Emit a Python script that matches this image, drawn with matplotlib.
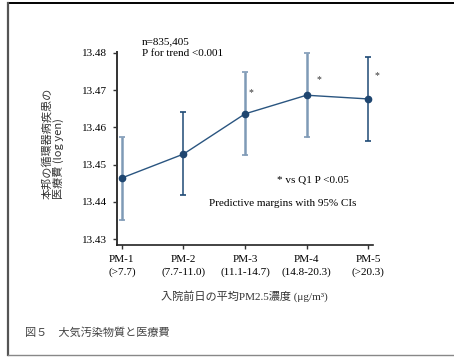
import matplotlib
matplotlib.use("Agg")
import matplotlib.pyplot as plt
from matplotlib.lines import Line2D

# ---- data ----
categories = ["PM-1\n(>7.7)", "PM-2\n(7.7-11.0)", "PM-3\n(11.1-14.7)", "PM-4\n(14.8-20.3)", "PM-5\n(>20.3)"]
margins = [13.4464, 13.4528, 13.4636, 13.4686, 13.4676]
ci_lower = [13.4351, 13.4418, 13.4525, 13.4575, 13.4563]
ci_upper = [13.4575, 13.4640, 13.4747, 13.4799, 13.4788]
yticks = [13.43, 13.44, 13.45, 13.46, 13.47, 13.48]
sig_idx = [2, 3, 4]
sig_y = [13.4693, 13.4727, 13.4738]

ylabel = "本邦の循環器病疾患の\n医療費 (log yen)"
xlabel = "入院前日の平均PM2.5濃度 (μg/m³)"
caption = "図５　大気汚染物質と医療費"
note_n = "n=835,405"
note_p = "P for trend <0.001"
note_sig = "* vs Q1 P <0.05"
note_ci = "Predictive margins with 95% CIs"

serif = ["Liberation Serif", "Noto Sans CJK JP"]
cjk = ["Noto Sans CJK JP", "DejaVu Sans"]
fs = 8.0

fig = plt.figure(figsize=(4.54, 3.57), dpi=100)
W, H = 454, 357
ax = fig.add_axes([117 / W, 1 - 245 / H, (373 - 117) / W, (245 - 52) / H])

x = list(range(len(categories)))
bar_colors = ["#7f9ab6", "#1f4a75", "#7f9ab6", "#7f9ab6", "#1f4a75"]
bar_lw = [1.8, 1.1, 1.8, 1.8, 1.1]
for i in x:
    ax.errorbar([i], [margins[i]],
                yerr=[[margins[i] - ci_lower[i]], [ci_upper[i] - margins[i]]],
                fmt="none", ecolor=bar_colors[i], elinewidth=bar_lw[i],
                capsize=2.2, capthick=1.2, zorder=2)
ax.plot(x, margins, color="#2a5580", lw=1.0, marker="o", ms=4.5,
        markerfacecolor="#1f4670", markeredgecolor="#1f4670", zorder=3)

dx = {2: 0.1, 3: 0.2, 4: 0.15}
for i, yv in zip(sig_idx, sig_y):
    ax.text(i + dx[i], yv, "*", fontsize=7, family=serif, ha="center", va="center", color="#333333")

ax.set_xlim(-0.08, 4.08)
ax.set_ylim(13.4284, 13.4802)
ax.set_yticks(yticks)
ax.set_yticklabels([f"{v:.2f}" for v in yticks], family=serif, fontsize=fs)
ax.set_xticks(x)
ax.set_xticklabels(categories, family=serif, fontsize=fs, linespacing=1.45)
for s in ["top", "right"]:
    ax.spines[s].set_visible(False)
ax.spines["left"].set_linewidth(1.4)
ax.spines["left"].set_color("#333333")
ax.spines["bottom"].set_linewidth(1.2)
ax.spines["bottom"].set_color("#222222")
ax.tick_params(axis="both", length=3, width=1, color="#333333", pad=4)

# annotations
fig.text(142 / W, 1 - 41.5 / H, note_n, family=serif, fontsize=fs, ha="left", va="center")
fig.text(142 / W, 1 - 53.5 / H, note_p, family=serif, fontsize=fs, ha="left", va="center")
fig.text(277 / W, 1 - 180 / H, note_sig, family=serif, fontsize=fs, ha="left", va="center")
fig.text(209 / W, 1 - 204 / H, note_ci, family=serif, fontsize=fs, ha="left", va="center")

fig.text(53 / W, 1 - 143 / H, ylabel, family=cjk, fontsize=8, rotation=90,
         ha="center", va="center", multialignment="left", color="#333333", linespacing=1.1)
fig.text(244 / W, 1 - 296 / H, xlabel, family=serif, fontsize=fs, ha="center", va="center",
         color="#333333")
fig.text(25 / W, 1 - 333 / H, caption, family=cjk, fontsize=8, ha="left", va="center",
         color="#444444")

# outer frame
fig.add_artist(Line2D([8 / W, 1], [1 - 3 / H, 1 - 3 / H], color="black", lw=1.4, transform=fig.transFigure))
fig.add_artist(Line2D([8 / W, 8 / W], [1 - 3 / H, 1 - 355 / H], color="#555555", lw=1.6, transform=fig.transFigure))
fig.add_artist(Line2D([8 / W, 1], [1 - 355 / H, 1 - 355 / H], color="#888888", lw=1.0, transform=fig.transFigure))

fig.savefig("out.png", dpi=100)
